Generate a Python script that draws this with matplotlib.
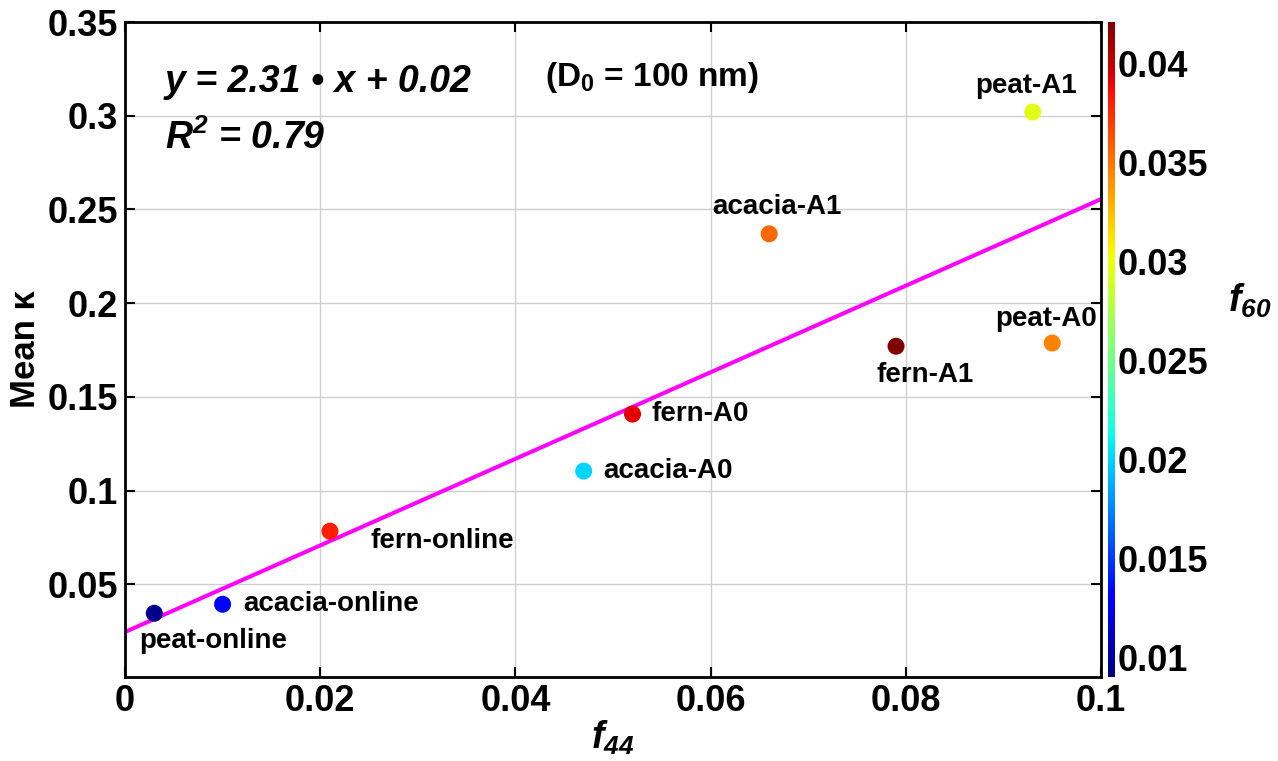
import numpy as np
import matplotlib
matplotlib.use("Agg")
import matplotlib.pyplot as plt

plt.rcParams['font.family'] = ['Liberation Sans', 'DejaVu Sans']
plt.rcParams['font.weight'] = 'bold'
plt.rcParams['mathtext.fontset'] = 'custom'
plt.rcParams['mathtext.rm'] = 'Liberation Sans:bold'
plt.rcParams['mathtext.it'] = 'Liberation Sans:italic:bold'
plt.rcParams['mathtext.bf'] = 'Liberation Sans:bold'
plt.rcParams['mathtext.bfit'] = 'Liberation Sans:italic:bold'

# data
names = ['peat-online', 'acacia-online', 'fern-online', 'acacia-A0', 'fern-A0',
         'acacia-A1', 'fern-A1', 'peat-A0', 'peat-A1']
f44 = [0.003, 0.010, 0.021, 0.047, 0.052, 0.066, 0.079, 0.095, 0.093]
kappa = [0.0345, 0.0393, 0.0783, 0.1104, 0.1408, 0.2370, 0.1770, 0.1787, 0.3020]
f60 = [0.0095, 0.0130, 0.0380, 0.0200, 0.0392, 0.0355, 0.0421, 0.0345, 0.0296]

# linear fit
slope = 2.31
intercept = 0.0245
fit_x = [0.0, 0.1]

# label offsets in points (dx, dy) from each marker, left aligned
label_offsets = [(-11, -20), (15, 0), (29, -7), (14, 0), (14, 0),
                 (-41, 19), (-14, -21), (-41, 17), (-41, 19)]

fig = plt.figure(figsize=(12.78, 7.61), dpi=100)
ax = fig.add_axes([0.0978, 0.1104, 0.7637, 0.8606])
cax = fig.add_axes([0.8670, 0.1104, 0.0055, 0.8606])

ax.grid(True, color='#cfcfcf', linewidth=1.0)
ax.set_axisbelow(True)

line_y = [slope * x + intercept for x in fit_x]
ax.plot(fit_x, line_y, color='#ff00ff', linewidth=2.9, zorder=2)

sc = ax.scatter(f44, kappa, c=f60, cmap='jet', vmin=0.0090, vmax=0.0421,
                s=150, edgecolors='none', zorder=3)

for name, x, y, (dx, dy) in zip(names, f44, kappa, label_offsets):
    ax.annotate(name, (x, y), xytext=(dx, dy), textcoords='offset points',
                ha='left', va='center', fontsize=20, fontweight='bold', zorder=4)

ax.set_xlim(0, 0.1)
ax.set_ylim(0.0005, 0.35)
ax.set_xticks([0, 0.02, 0.04, 0.06, 0.08, 0.1])
ax.set_xticklabels(['0', '0.02', '0.04', '0.06', '0.08', '0.1'])
ax.set_yticks([0.05, 0.1, 0.15, 0.2, 0.25, 0.3, 0.35])
ax.set_yticklabels(['0.05', '0.1', '0.15', '0.2', '0.25', '0.3', '0.35'])
ax.tick_params(direction='in', length=7, width=1.5, top=True, right=True,
               labelsize=26, pad=5)
for lab in ax.get_xticklabels() + ax.get_yticklabels():
    lab.set_fontweight('bold')
for sp in ax.spines.values():
    sp.set_linewidth(2.0)

ax.set_xlabel(r'$\mathbfit{f}_{\mathbfit{44}}$', fontsize=27, labelpad=0)
ax.set_ylabel('Mean κ', fontsize=25, fontweight='bold', labelpad=4)

ax.text(0.041, 0.908, 'y = 2.31 • x + 0.02', transform=ax.transAxes,
        fontsize=27, fontweight='bold', fontstyle='italic', ha='left', va='center')
ax.text(0.041, 0.822, r'$\mathbfit{R}^{\mathbfit{2}}$ = 0.79', transform=ax.transAxes,
        fontsize=27, fontweight='bold', fontstyle='italic', ha='left', va='center')
ax.text(0.43, 0.915, r'(D$_{\mathbf{0}}$ = 100 nm)', transform=ax.transAxes,
        fontsize=24, fontweight='bold', ha='left', va='center')

cb = fig.colorbar(sc, cax=cax)
cb.set_ticks([0.01, 0.015, 0.02, 0.025, 0.03, 0.035, 0.04])
cb.set_ticklabels(['0.01', '0.015', '0.02', '0.025', '0.03', '0.035', '0.04'])
cb.outline.set_visible(False)
cax.tick_params(length=0, labelsize=26, pad=2)
for lab in cax.get_yticklabels():
    lab.set_fontweight('bold')
fig.text(0.978, 0.605, r'$\mathbfit{f}_{\mathbfit{60}}$', fontsize=27,
         ha='center', va='center')

fig.savefig('out.png', dpi=100)
